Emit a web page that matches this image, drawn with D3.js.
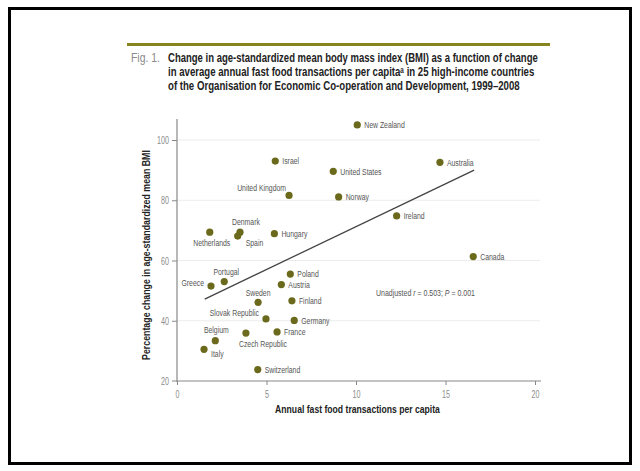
<!DOCTYPE html>
<html><head><meta charset="utf-8">
<script src="https://cdn.jsdelivr.net/npm/d3@7/dist/d3.min.js"></script>
<style>
html,body{margin:0;padding:0;background:#fff;}
text{font-family:"Liberation Sans",Arial,sans-serif;}
</style></head>
<body>
<svg id="c" width="640" height="471"></svg>
<script>
const countries = ["New Zealand","Israel","United States","Australia","United Kingdom","Norway","Ireland","Denmark","Netherlands","Spain","Hungary","Canada","Portugal","Greece","Poland","Austria","Sweden","Finland","Slovak Republic","Germany","Belgium","Czech Republic","France","Italy","Switzerland"];
const fastFood = [10.07,5.49,8.73,14.69,6.26,9.03,12.27,3.52,1.83,3.39,5.44,16.55,2.64,1.90,6.33,5.83,4.53,6.42,4.97,6.55,2.14,3.85,5.59,1.51,4.51];
const bmiChange = [105.0,93.0,89.6,92.6,81.6,81.1,74.8,69.4,69.4,68.1,68.9,61.3,53.0,51.5,55.5,52.0,46.1,46.6,40.6,40.1,33.4,35.9,36.3,30.5,23.8];
const xTicks = [0,5,10,15,20];
const yTicks = [20,40,60,80,100];
const trendX = [1.55,16.6];
const trendY = [47.2,90.0];
const titleLines = ["Change in age-standardized mean body mass index (BMI) as a function of change",
  "in average annual fast food transactions per capita\u1d43 in 25 high-income countries",
  "of the Organisation for Economic Co-operation and Development, 1999\u20132008"];

// label placement (styling): [anchor, dx, dy]
const labelPlace = {
  "United Kingdom":["end",-3,-8], "Denmark":["start",-8,-11], "Netherlands":["middle",2,10],
  "Spain":["start",8,7], "Portugal":["middle",2,-10], "Greece":["end",-7,-3],
  "Sweden":["middle",0,-10], "Slovak Republic":["end",-7,-6], "Belgium":["middle",1,-11],
  "Czech Republic":["start",-7,11], "Italy":["start",7,4]
};

const svg = d3.select("#c");

// place text at (px,py) horizontally condensed so its width becomes target (or scaled by factor)
function condense(sel, px, py, target, factor){
  sel.attr("x",0).attr("y",0);
  const w = sel.node().getComputedTextLength();
  const s = factor != null ? factor : target / w;
  sel.attr("transform",`translate(${px},${py}) scale(${s},1)`);
  return s;
}

svg.append("rect").attr("x",9.5).attr("y",8.5).attr("width",621).attr("height",455)
  .attr("fill","#fff").attr("stroke","#000").attr("stroke-width",3);

svg.append("line").attr("x1",127).attr("x2",550).attr("y1",44.5).attr("y2",44.5)
  .attr("stroke","#85841f").attr("stroke-width",3);

condense(svg.append("text").attr("font-size",12).attr("fill","#8a8a8a").text("Fig. 1."),131,61.5,29);
const tl = [370,367,352];
titleLines.forEach((t,i)=>{
  const tx = svg.append("text").attr("font-size",12).attr("font-weight","bold").attr("fill","#222").text(t);
  condense(tx,168,61.5+i*14,tl[i]);
});

const x = d3.scaleLinear().domain([0,20]).range([177,535]);
const y = d3.scaleLinear().domain([20,100]).range([381,140]);

// gridlines
svg.append("g").selectAll("line").data(yTicks.filter(d=>d>20)).join("line")
  .attr("x1",178).attr("x2",540).attr("y1",d=>y(d)).attr("y2",d=>y(d))
  .attr("stroke","#ececec").attr("stroke-width",1);

// axes
const xAxis = svg.append("g").attr("transform","translate(0,381)")
  .call(d3.axisBottom(x).tickValues(xTicks).tickSize(4).tickPadding(5));
xAxis.select(".domain").remove();
xAxis.append("line").attr("x1",172).attr("x2",541).attr("stroke","#888").attr("stroke-width",1.2);
const yAxis = svg.append("g").attr("transform","translate(177,0)")
  .call(d3.axisLeft(y).tickValues(yTicks).tickSize(5).tickPadding(3));
yAxis.select(".domain").remove();
yAxis.append("line").attr("y1",119).attr("y2",382).attr("stroke","#888").attr("stroke-width",1.2);
[xAxis,yAxis].forEach(a=>{
  a.selectAll(".tick line").attr("stroke","#888");
  a.selectAll(".tick text").attr("fill","#8c8c8c").attr("font-size",11)
    .style("font-family",'"Liberation Sans",Arial,sans-serif');
});
yAxis.selectAll(".tick line").filter(d=>d===20).attr("x2",0);
// condense tick labels
xAxis.selectAll(".tick text").attr("transform","scale(0.65,1)");
yAxis.selectAll(".tick text").each(function(){
  const t = d3.select(this); const xx = +t.attr("x");
  t.attr("x",0).attr("transform",`translate(${xx},0) scale(0.65,1)`);
});

condense(svg.append("text").attr("text-anchor","middle").attr("font-size",11.5).attr("font-weight","bold")
  .attr("fill","#222").text("Annual fast food transactions per capita"),357.5,413,165);
{
  const yt = svg.append("text").attr("text-anchor","middle").attr("font-size",11.5).attr("font-weight","bold")
    .attr("fill","#222").attr("dy","0.35em").text("Percentage change in age-standardized mean BMI");
  yt.attr("x",0).attr("y",0);
  const w = yt.node().getComputedTextLength();
  yt.attr("transform",`translate(146,255) rotate(-90) scale(${210/w},1)`);
}

// trend line
svg.append("line").attr("x1",x(trendX[0])).attr("y1",y(trendY[0])).attr("x2",x(trendX[1])).attr("y2",y(trendY[1]))
  .attr("stroke","#444").attr("stroke-width",1.3);

const data = countries.map((c,i)=>({c,fx:fastFood[i],b:bmiChange[i]}));
svg.append("g").selectAll("circle").data(data).join("circle")
  .attr("cx",d=>x(d.fx)).attr("cy",d=>y(d.b)).attr("r",3.6).attr("fill","#6b6a1c");

// label condense factor from "United Kingdom" ≈ 49px wide in reference
const probe = svg.append("text").attr("font-size",9.5).text("United Kingdom");
const labelFactor = 49 / probe.node().getComputedTextLength();
probe.remove();

const lg = svg.append("g");
data.forEach(d=>{
  const p = labelPlace[d.c] || ["start",7,0];
  const t = lg.append("text").attr("dy","0.35em").attr("text-anchor",p[0])
    .attr("font-size",9.5).attr("fill","#555").text(d.c);
  condense(t, x(d.fx)+p[1], y(d.b)+p[2], null, labelFactor);
});

const ann = svg.append("text").attr("dy","0.35em").attr("font-size",9.5).attr("fill","#555");
ann.append("tspan").text("Unadjusted ");
ann.append("tspan").attr("font-style","italic").text("r");
ann.append("tspan").text(" = 0.503; ");
ann.append("tspan").attr("font-style","italic").text("P");
ann.append("tspan").text(" = 0.001");
condense(ann,376,293,99);
</script>
</body></html>
